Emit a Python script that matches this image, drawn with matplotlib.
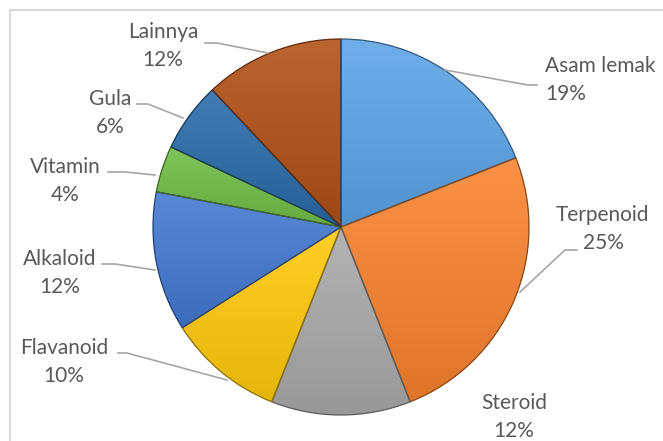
import matplotlib
matplotlib.use("Agg")
import matplotlib.pyplot as plt
import numpy as np
from matplotlib.colors import to_rgb
from matplotlib.patches import Wedge

labels = ["Asam lemak", "Terpenoid", "Steroid", "Flavanoid", "Alkaloid", "Vitamin", "Gula", "Lainnya"]
values = [19, 25, 12, 10, 12, 4, 6, 12]
colors = ["#5ba3e6", "#f8822e", "#a9a9a9", "#ffc90a", "#4378d2", "#6fbd45", "#2a69a8", "#b14f15"]

W, H = 663, 441
plt.rcParams['font.family'] = ['Lato', 'DejaVu Sans']

fig = plt.figure(figsize=(W / 100, H / 100), dpi=100)
ax = fig.add_axes([0, 0, 1, 1])


def py(y):
    # image rows (from top) -> axis y
    return H - y


cx, cy, r = 341, py(227), 188
wedges, _ = ax.pie(values, colors=colors, startangle=90, counterclock=False,
                   center=(cx, cy), radius=r, frame=True,
                   wedgeprops=dict(linewidth=0.9))

# soft shading per slice, a bit lighter on top and darker at the bottom
grad = np.linspace(0, 1, 256)[:, None]
for w, c in zip(wedges, colors):
    base = np.array(to_rgb(c))
    ext = w.get_path().get_extents()
    top = base + (1 - base) * 0.12
    bot = base * 0.9
    img = top[None, None, :] * (1 - grad[:, :, None]) + bot[None, None, :] * grad[:, :, None]
    im = ax.imshow(img, extent=(ext.x0, ext.x1, ext.y0, ext.y1), origin='upper',
                   interpolation='bilinear', zorder=w.get_zorder() + 0.1, aspect='auto')
    im.set_clip_path(w)
    edge = Wedge(w.center, w.r, w.theta1, w.theta2, fill=False,
                 edgecolor=tuple(base * 0.55), linewidth=0.9,
                 zorder=w.get_zorder() + 0.2)
    ax.add_patch(edge)

# label block centres (x, y from top), alignment
lab_pos = {
    "Asam lemak": (545, 80, 'left'),
    "Terpenoid": (603, 229, 'center'),
    "Steroid": (514, 417, 'center'),
    "Flavanoid": (64, 362, 'center'),
    "Alkaloid": (60, 273, 'center'),
    "Vitamin": (65, 181, 'center'),
    "Gula": (110, 113, 'center'),
    "Lainnya": (163, 46, 'center'),
}
leaders = {
    "Asam lemak": [(537, 85), (528, 85), (445, 70)],
    "Terpenoid": [(577, 250), (565, 250), (520, 292)],
    "Flavanoid": [(118, 353), (127, 353), (227, 380)],
    "Alkaloid": [(102, 264), (115, 264), (155, 270)],
    "Vitamin": [(108, 172), (125, 172), (155, 175)],
    "Gula": [(137, 104), (148, 104), (183, 118)],
    "Lainnya": [(205, 43), (217, 43), (268, 53)],
}

for lab, v in zip(labels, values):
    x, y, ha = lab_pos[lab]
    ax.text(x, py(y), f"{lab}\n{v}%", ha=ha, va='center', multialignment=ha,
            fontsize=15, color='#595959', linespacing=1.45, zorder=5)
    if lab in leaders:
        pts = leaders[lab]
        ax.plot([p[0] for p in pts], [py(p[1]) for p in pts], color='#a6a6a6',
                linewidth=1.2, zorder=4)

# chart area border
ax.plot([10, 10, W], [0, py(10), py(10)], color='#d9d9d9', linewidth=1.5, zorder=1)

ax.set_xlim(0, W)
ax.set_ylim(0, H)
ax.set_aspect('equal')
ax.axis('off')
fig.savefig("out.png", dpi=100, facecolor='white')
